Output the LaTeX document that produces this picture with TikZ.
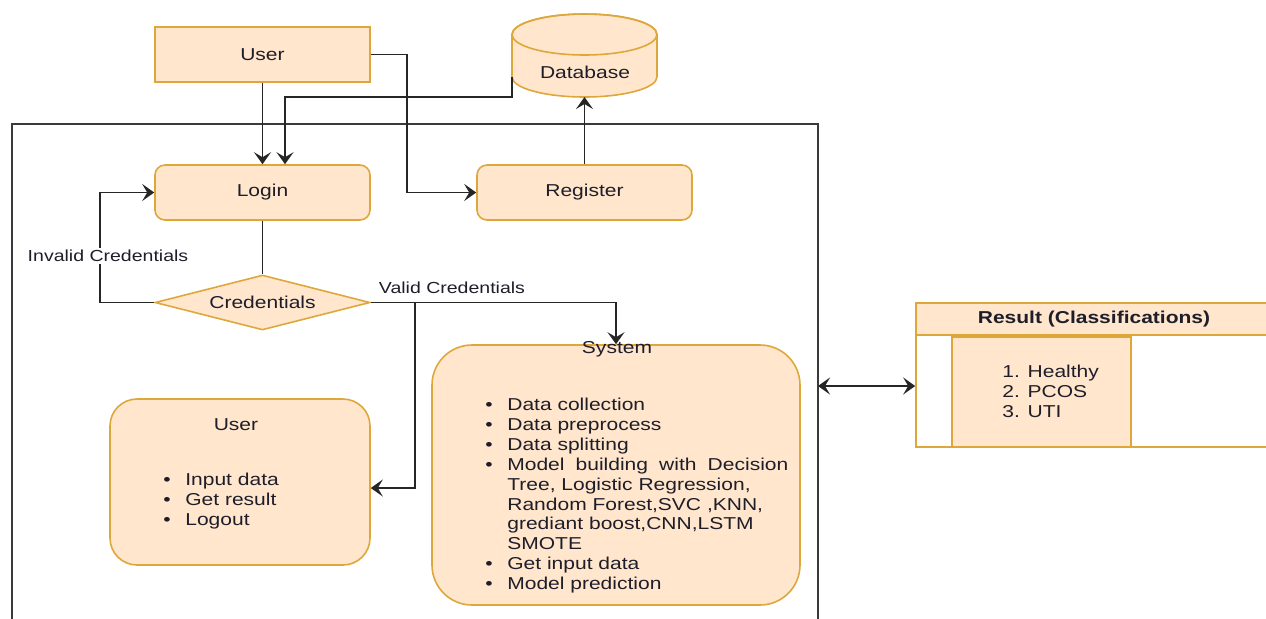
\documentclass[tikz,border=0pt]{standalone}
\usepackage{fontspec}
\setmainfont{Liberation Sans}[FakeStretch=1.22]
\usetikzlibrary{arrows.meta, calc, shapes.geometric}
\definecolor{boxfill}{HTML}{FFE6CC}
\definecolor{boxline}{HTML}{DDA73A}
\definecolor{ink}{HTML}{1E1E2A}
\definecolor{framecol}{HTML}{3A3A3A}
\newcommand{\itm}{\makebox[4.4mm][l]{\textbullet}}
\newcommand{\ind}{\hspace*{4.4mm}}

\begin{document}
\begin{tikzpicture}[x=0.2mm, y=-0.2mm,
    >={Stealth[length=2.4mm, width=3.4mm, inset=1mm]},
    every node/.style = {text=ink, font=\fontsize{9.8}{11.3}\selectfont},
    boxsty/.style = {draw=boxline, fill=boxfill, line width=0.9pt, inner sep=0pt},
    rbox/.style = {boxsty, rounded corners=2mm},
    lbl/.style = {font=\fontsize{9.1}{11}\selectfont},
    link/.style = {draw=black!85, line width=1pt},
    flow/.style = {link, ->}]
    \useasboundingbox (0,0) rectangle (1266,618);
    \clip (0,0) rectangle (1266,618);

    \draw[framecol, line width=1.2pt] (12,640) -- (12,124) -- (818,124) -- (818,640);

    \filldraw[boxsty] (512,34.5) -- (512,77)
        arc[start angle=180, end angle=360, x radius=14.5mm, y radius=4mm]
        -- (657,34.5)
        arc[start angle=0, end angle=180, x radius=14.5mm, y radius=4.1mm] -- cycle;
    \draw[boxline, line width=0.9pt] (584.5,34.5) ellipse [x radius=14.5mm, y radius=4.1mm];
    \node (db) at (585,72) {Database};
    \coordinate (dbside) at (512,77);
    \coordinate (dbbot) at (584.5,97);

    \node (user) at (262.5,54.5) [boxsty, minimum width=43mm, minimum height=11mm] {User};
    \node (login) at (262.5,192.5) [rbox, minimum width=43mm, minimum height=11mm] {Login};
    \node (reg) at (584.5,192.5) [rbox, minimum width=43mm, minimum height=11mm] {Register};
    \node (cred) at (262.5,302.5) [boxsty, diamond, aspect=4, minimum width=43mm, minimum height=11mm] {Credentials};

    \node (ub) at (240,482) [rbox, rounded corners=5.4mm, minimum width=52mm, minimum height=33.2mm] {};
    \node (ubt) at (236,425) {User};
    \node (ubl) at (163,473) [anchor=north west, align=left, inner sep=0pt]
        {\itm Input data\\ \itm Get result\\ \itm Logout};

    \node (sys) at (616,475) [rbox, rounded corners=8mm, minimum width=73.6mm, minimum height=52mm] {};
    \node (syst) at (617,349) {System};
    \node (sysl) at (485,398) [anchor=north west, align=left, inner sep=0pt]
        {\itm Data collection\\
         \itm Data preprocess\\
         \itm Data splitting\\
         \itm \makebox[56.2mm][s]{Model building with Decision}\\
         \ind Tree, Logistic Regression,\\
         \ind Random Forest,SVC ,KNN,\\
         \ind grediant boost,CNN,LSTM\\
         \ind SMOTE\\
         \itm Get input data\\
         \itm Model prediction};

    \node (rhead) at (1094,319) [boxsty, minimum width=71.2mm, minimum height=6.4mm,
        font=\bfseries\fontsize{9.8}{11.3}\selectfont] {Result (Classifications)};
    \node (rbody) at (1094,391) [draw=boxline, fill=white, line width=0.9pt,
        minimum width=71.2mm, minimum height=22.4mm] {};
    \node (rin) at (1041.5,392) [boxsty, minimum width=35.8mm, minimum height=22mm] {};
    \node (rlist) at (1002,365) [anchor=north west, align=left, inner sep=0pt]
        {1. Healthy\\2. PCOS\\3. UTI};

    \draw[flow] (user) -- (login);
    \draw[flow] (dbside) -- (dbside |- dbbot) -| ($(login.north)+(22.5,0)$);
    \draw[flow] (user.east) -- ++(36,0) |- (reg.west);
    \draw[flow] (reg.north) -- (dbbot);
    \draw[link] (login) -- (cred);
    \draw[flow] (cred.west) -- ++(-54,0) |- (login.west);
    \draw[flow] (cred.east) -| (sys.north);
    \draw[flow] ($(cred.east)+(44,0)$) |- ($(ub.east)+(0,6)$);
    \coordinate (frr) at (818,386);
    \draw[link, <->] (frr) -- (frr -| rbody.west);

    \node (inv) at (108,256) [lbl, fill=white, inner sep=1pt] {Invalid Credentials};
    \node (val) at (452,288) [lbl] {Valid Credentials};
\end{tikzpicture}
\end{document}
